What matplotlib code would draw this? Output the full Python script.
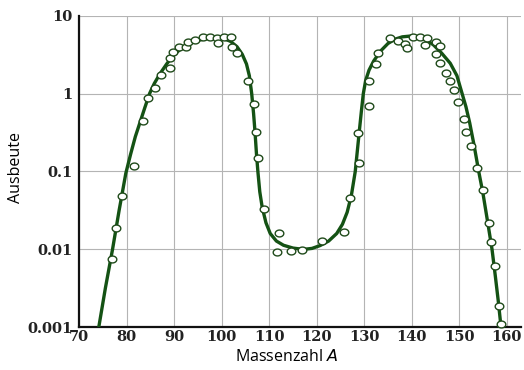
import numpy as np
import matplotlib
matplotlib.use("Agg")
import matplotlib.pyplot as plt
from matplotlib.path import Path

# measured data points (mass number, yield %)
point_A = [76.9, 77.7, 79.0, 81.6, 83.5, 84.5, 86.0, 87.2, 89.1, 89.1, 89.7, 90.9,
           92.5, 92.8, 94.4, 96.0, 97.5, 98.9, 99.1, 100.5, 101.9, 102.1, 103.3,
           105.5, 106.7, 107.3, 107.6, 108.8, 111.6, 112.1, 114.5, 116.9, 121.1,
           125.8, 127.1, 128.8, 128.6, 130.9, 130.9, 132.5, 132.8, 135.5, 137.2,
           138.6, 139.0, 140.2, 141.8, 142.8, 143.3, 145.0, 145.0, 145.9, 146.0,
           147.3, 148.0, 148.8, 149.7, 150.9, 151.5, 152.5, 153.8, 155.0, 156.2,
           156.7, 157.5, 158.3, 158.7]
point_Y = [0.0076, 0.019, 0.049, 0.118, 0.44, 0.89, 1.17, 1.73, 2.15, 2.9, 3.45, 4.0,
           4.0, 4.6, 4.9, 5.3, 5.4, 5.1, 4.5, 5.3, 5.4, 4.0, 3.3,
           1.47, 0.73, 0.32, 0.15, 0.033, 0.0093, 0.0164, 0.0095, 0.0097, 0.0128,
           0.0168, 0.046, 0.13, 0.31, 0.69, 1.47, 2.37, 3.35, 5.1, 4.8,
           4.3, 3.9, 5.4, 5.3, 4.2, 5.1, 4.6, 3.2, 4.1, 2.45,
           1.86, 1.43, 1.11, 0.77, 0.47, 0.32, 0.21, 0.11, 0.058, 0.022,
           0.0124, 0.0062, 0.0019, 0.0011]

# fitted curve
curve_A = [74.1, 75.5, 77.0, 78.4, 79.0, 79.8, 80.8, 81.8, 82.8, 83.8, 84.8, 85.8,
           87.0, 88.4, 89.8, 91.5, 93.3, 95.5, 97.5, 99.0, 100.3, 101.8, 103.2,
           104.3, 105.2, 105.8, 106.3, 106.7, 107.0, 107.3, 107.6, 108.0, 108.5,
           109.3, 110.2, 111.5, 113.0, 115.0, 117.2, 119.0, 120.7, 122.5, 124.2,
           125.4, 126.4, 127.3, 128.1, 128.6, 129.0, 129.4, 129.8, 130.3, 131.0,
           132.0, 133.5, 135.0, 136.5, 138.0, 140.0, 141.8, 143.3, 144.6, 146.3,
           148.1, 149.5, 150.6, 151.4, 152.2, 153.1, 154.1, 155.0, 156.0, 156.9,
           157.6, 158.2, 158.8]
curve_Y = [0.001, 0.0032, 0.01, 0.032, 0.051, 0.095, 0.166, 0.28, 0.43, 0.66, 1.0, 1.35,
           1.8, 2.4, 3.1, 3.8, 4.4, 4.9, 5.15, 5.2, 5.1, 4.7, 4.0,
           3.2, 2.4, 1.7, 1.0, 0.55, 0.32, 0.17, 0.1, 0.055, 0.035,
           0.022, 0.016, 0.0128, 0.0113, 0.0104, 0.0100, 0.0103, 0.0112, 0.0128, 0.016,
           0.021, 0.03, 0.05, 0.1, 0.2, 0.35, 0.6, 1.0, 1.48, 2.0,
           2.63, 3.55, 4.4, 5.0, 5.35, 5.5, 5.3, 4.8, 4.2, 3.3,
           2.45, 1.7, 1.0, 0.68, 0.42, 0.22, 0.1, 0.052, 0.022, 0.01,
           0.0045, 0.0022, 0.001]

x_ticks = [70, 80, 90, 100, 110, 120, 130, 140, 150, 160]
y_ticks = [0.001, 0.01, 0.1, 1, 10]
y_ticklabels = ["0.001", "0.01", "0.1", "1", "10"]

fig = plt.figure(figsize=(5.24, 3.70), dpi=100)
ax = fig.add_axes([0.1513, 0.1154, 0.8430, 0.8422])

ax.set_yscale("log")
ax.set_xlim(70, 163)
ax.set_ylim(0.001, 10)

green = "#145214"
ax.plot(curve_A, curve_Y, color=green, lw=2.4, zorder=3,
        solid_capstyle="round", solid_joinstyle="round")

# slightly elliptical open marker
t = np.linspace(0, 2 * np.pi, 40)
ell = Path(np.column_stack([1.25 * np.cos(t), np.sin(t)]), closed=True)
ax.plot(point_A, point_Y, linestyle="none", marker=ell, markersize=6.2,
        markerfacecolor="white", markeredgecolor="#1f4a1a", markeredgewidth=1.0,
        zorder=4, clip_on=False)

ax.set_xticks(x_ticks)
ax.set_yticks(y_ticks)
ax.set_yticklabels(y_ticklabels)
ax.yaxis.set_minor_locator(matplotlib.ticker.NullLocator())
ax.grid(True, which="major", color="#b4b4b4", lw=0.8)
ax.set_axisbelow(True)

for s in ["top", "right"]:
    ax.spines[s].set_visible(False)
for s in ["left", "bottom"]:
    ax.spines[s].set_linewidth(1.6)
    ax.spines[s].set_color("#111111")

ax.tick_params(axis="both", length=0, labelsize=10.5, colors="#222222")
ax.tick_params(axis="x", pad=2)
ax.tick_params(axis="y", pad=5)
for lab in ax.get_xticklabels() + ax.get_yticklabels():
    lab.set_fontfamily("DejaVu Serif")
    lab.set_fontweight("bold")

fig.text(0.547, 0.035, "Massenzahl $\\mathit{A}$", ha="center", va="center",
         fontsize=11.5, family="Open Sans")
fig.text(0.031, 0.546, "Ausbeute", ha="center", va="center", rotation=90,
         fontsize=11.5, family="Open Sans")

fig.savefig("out.png", dpi=100)
